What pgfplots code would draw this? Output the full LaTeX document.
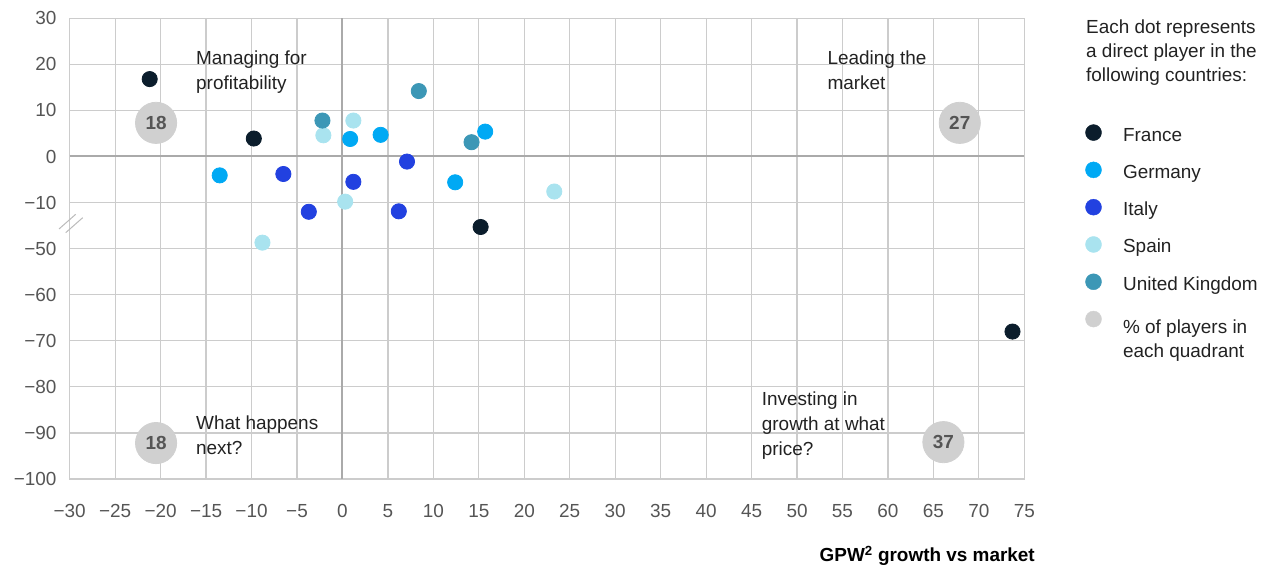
\documentclass[border=0pt]{standalone}
\usepackage{pgfplots}
\pgfplotsset{compat=1.18}
\usepackage{fontspec}
\setmainfont{Liberation Sans}
\definecolor{france}{HTML}{0B1D2C}
\definecolor{germany}{HTML}{00A9F4}
\definecolor{italy}{HTML}{2241E0}
\definecolor{spain}{HTML}{A9E3EF}
\definecolor{uk}{HTML}{3C97B6}
\definecolor{quad}{HTML}{D0D0D0}
\definecolor{numgray}{HTML}{555555}
\definecolor{gridgray}{HTML}{CCCCCC}
\definecolor{zerogray}{HTML}{AAAAAA}
\definecolor{ticktext}{HTML}{555555}
\definecolor{bodytext}{HTML}{222222}
\definecolor{breakgray}{HTML}{BBBBBB}
\newcommand\fs{\fontsize{19}{24}\selectfont}
\newcommand\fsb{\fontsize{19}{25}\selectfont}
\begin{document}
\begin{tikzpicture}[x=1bp,y=1bp]
\useasboundingbox (-69.7,-86) rectangle (1202.3,479);
\begin{axis}[
  at={(0,0)}, anchor=south west,
  scale only axis, width=954.6bp, height=460.7bp,
  xmin=-30, xmax=75, ymin=-70, ymax=30,
  xtick={-30,-25,...,75},
  xticklabels={−30,−25,−20,−15,−10,−5,0,5,10,15,20,25,30,35,40,45,50,55,60,65,70,75},
  ytick={-70,-60,...,30},
  yticklabels={−100,−90,−80,−70,−60,−50,−10,0,10,20,30},
  grid=major, major grid style={gridgray, line width=1.2bp},
  axis line style={gridgray, line width=1.2bp},
  major tick length=0pt,
  tick label style={font=\fs, text=ticktext},
  yticklabel style={anchor=east, inner sep=0pt, xshift=-13bp},
  xticklabel style={anchor=base, inner sep=0pt, yshift=-38.3bp},
  extra x ticks={0}, extra y ticks={0},
  extra x tick labels={}, extra y tick labels={},
  extra tick style={major grid style={zerogray, line width=2bp}},
  y filter/.expression={y<-30 ? y+30 : y},
  clip=false,
  legend style={at={(1.0639,0.7697)}, anchor=north west, draw=none, fill=none,
    inner sep=0pt, outer sep=0pt, row sep=16.6bp, column sep=21.4bp,
    font=\fsb, text=bodytext,
    nodes={inner sep=0pt, text height=14bp, text depth=4bp}},
  legend cell align=left,
  legend image code/.code={\fill[#1] (8bp,3.5bp) circle (8bp);},
]
\addplot[only marks, mark=*, color=france, mark size=7.6bp, mark options={line width=0.8bp}] coordinates {
(-21.2,16.8) (-9.75,3.9) (15.2,-45.3) (73.7,-68.0)};
\addlegendentry{France}
\addplot[only marks, mark=*, color=germany, mark size=7.6bp, mark options={line width=0.8bp}] coordinates {
(-13.5,-4.1) (0.85,3.8) (4.2,4.7) (15.7,5.4) (12.4,-5.6)};
\addlegendentry{Germany}
\addplot[only marks, mark=*, color=italy, mark size=7.6bp, mark options={line width=0.8bp}] coordinates {
(-6.5,-3.8) (-3.7,-12.0) (1.2,-5.5) (7.1,-1.1) (6.2,-11.9)};
\addlegendentry{Italy}
\addplot[only marks, mark=*, color=spain, mark size=7.6bp, mark options={line width=0.8bp}] coordinates {
(-8.8,-48.7) (-2.1,4.6) (1.2,7.8) (0.3,-9.8) (23.3,-7.6)};
\addlegendentry{Spain}
\addplot[only marks, mark=*, color=uk, mark size=7.6bp, mark options={line width=0.8bp}] coordinates {
(-2.2,7.8) (8.4,14.2) (14.2,3.1)};
\addlegendentry{United Kingdom}
\addplot[only marks, mark=*, color=quad, mark size=20.6bp, mark options={line width=0.8bp},
  point meta=explicit symbolic, nodes near coords,
  nodes near coords style={anchor=center, font=\fs\bfseries, text=numgray},
  legend image code/.code={\fill[quad] (8bp,9bp) circle (8bp);}]
  table[meta=n] {
x y n
-20.5 7.3 18
67.9 7.3 27
-20.5 -92.2 18
66.1 -92.0 37
};
\addlegendentry{\begin{tabular}[t]{@{}l@{}}\% of players in\\each quadrant\end{tabular}}
\end{axis}
% quadrant annotations
\node[anchor=base west, inner sep=0pt, font=\fsb, text=bodytext] at (126.3,414) {\begin{tabular}[t]{@{}l@{}}Managing for\\profitability\end{tabular}};
\node[anchor=base west, inner sep=0pt, font=\fsb, text=bodytext] at (757.6,414) {\begin{tabular}[t]{@{}l@{}}Leading the\\market\end{tabular}};
\node[anchor=base west, inner sep=0pt, font=\fsb, text=bodytext] at (126.3,49) {\begin{tabular}[t]{@{}l@{}}What happens\\next?\end{tabular}};
\node[anchor=base west, inner sep=0pt, font=\fsb, text=bodytext] at (692,73) {\begin{tabular}[t]{@{}l@{}}Investing in\\growth at what\\price?\end{tabular}};
% legend title
\node[anchor=base west, inner sep=0pt, font=\fs, text=bodytext] at (1016.3,445.7) {\begin{tabular}[t]{@{}l@{}}Each dot represents\\a direct player in the\\following countries:\end{tabular}};
% x label
\node[anchor=base east, inner sep=0pt, font=\fs\bfseries, text=black] at (965.3,-83) {GPW\textsuperscript{2} growth vs market};
% axis break mark
\draw[breakgray, line width=1bp] (-10.7,250) -- (6,264.7);
\draw[breakgray, line width=1bp] (-4,246.3) -- (13,261.3);
\end{tikzpicture}
\end{document}
